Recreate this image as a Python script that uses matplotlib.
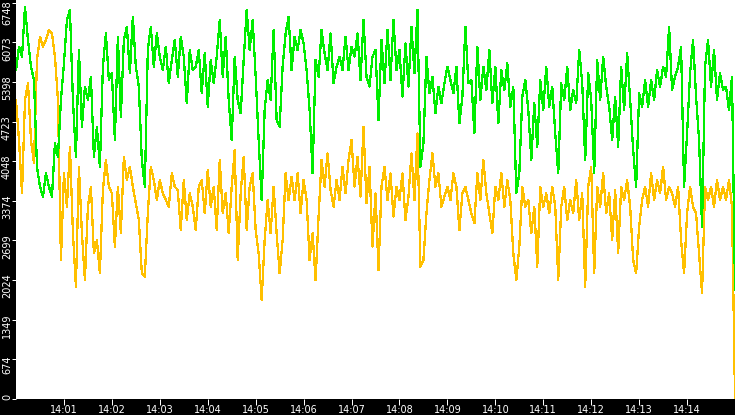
import numpy as np
import pandas as pd
import matplotlib
matplotlib.use("Agg")
import matplotlib.pyplot as plt
import matplotlib.dates as mdates

# samples every 3.75 s from 14:00:00, last sample at 14:15:00
green = [
    5601, 5999, 5828, 6680, 6112, 5658, 5431, 3954, 3613, 3443,
    3840, 3613, 3443, 4352, 4124, 5090, 5715, 6453, 6624, 5090,
    4124, 5942, 4636, 5317, 5090, 5488, 4124, 4636, 3954, 5658,
    6226, 5431, 5544, 4408, 6169, 4806, 6112, 6340, 5544, 6510,
    5658, 5317, 4068, 3613, 5942, 6340, 5658, 6226, 5828, 5601,
    5999, 5374, 5772, 6112, 5488, 6169, 5828, 5033, 5942, 5601,
    # 14:03:45
    5658, 5942, 5204, 5885, 4976, 5772, 5374, 5828, 6453, 5488,
    6169, 5090, 4408, 5828, 5090, 4863, 5772, 6624, 5942, 6453,
    5488, 4408, 3386, 4920, 5431, 5090, 6283, 4749, 4636, 5658,
    6226, 6510, 5601, 6169, 5942, 6283, 6056, 5601, 4920, 3840,
    5772, 5488, 6283, 5885, 5601, 6226, 5374, 5658, 5828, 5601,
    6169, 5601, 5999, 5828, 6226, 5431, 6453, 5488, 5317, 5828,
    # 14:07:30
    5942, 4749, 6112, 5374, 6283, 5431, 6453, 5601, 5942, 5147,
    6056, 5317, 6340, 5544, 6624, 3954, 4352, 5828, 5204, 5488,
    4863, 5317, 5033, 5374, 5658, 5431, 5204, 5658, 4692, 5147,
    6340, 5374, 5431, 4522, 5999, 5090, 5658, 5260, 5942, 5033,
    5658, 4692, 5601, 5260, 5715, 4976, 5317, 3500, 3840, 5147,
    5431, 4920, 4068, 5033, 4295, 5431, 4920, 5658, 4976, 5317,
    # 14:11:15
    4522, 3840, 5374, 5090, 5658, 4920, 5260, 5033, 5942, 5374,
    4068, 5544, 5090, 3840, 5772, 5090, 5828, 5317, 4976, 4408,
    5147, 4295, 5658, 4920, 5885, 5090, 4238, 3613, 5204, 4976,
    5431, 4976, 5431, 5090, 5601, 5317, 5658, 5488, 6340, 5260,
    5488, 5658, 5999, 3613, 4522, 5544, 6112, 5147, 4408, 2932,
    5658, 6112, 5317, 5942, 5090, 5544, 5260, 5317, 4920, 5488,
    1852,
]

orange = [
    5090, 4408, 3500, 5090, 5374, 4408, 4011, 5772, 6169, 5999,
    6112, 6283, 6226, 5828, 5090, 2364, 3840, 3272, 4295, 2818,
    1909, 3954, 2818, 2023, 3272, 3613, 2477, 2704, 2136, 3556,
    4068, 3613, 3500, 2591, 3613, 2818, 4124, 3727, 3954, 3613,
    3329, 3045, 2136, 2080, 3159, 3954, 3727, 3386, 3727, 3500,
    3386, 3272, 3840, 3613, 3556, 2875, 3727, 3045, 3500, 3272,
    # 14:03:45
    2875, 3613, 3727, 3159, 3897, 3272, 3613, 2875, 4068, 3159,
    3500, 2818, 3613, 4238, 2364, 3500, 4124, 2875, 3613, 3840,
    2875, 2477, 1682, 2704, 3386, 2818, 3613, 2818, 2136, 2704,
    3840, 3386, 3784, 3386, 3840, 3159, 3727, 3386, 2364, 2818,
    2023, 3102, 4068, 3613, 4181, 3556, 3272, 3727, 3386, 3954,
    3500, 4068, 4408, 3613, 4124, 3443, 4636, 3329, 3954, 2591,
    # 14:07:30
    3500, 2193, 3613, 3954, 3386, 3840, 3102, 3613, 3386, 3840,
    3045, 3443, 4181, 3386, 4522, 2250, 2364, 3159, 3727, 4181,
    3613, 3840, 3272, 3443, 3613, 3386, 3840, 3613, 2875, 3500,
    3613, 3386, 3159, 2988, 3840, 3386, 4068, 3500, 3159, 2818,
    3613, 3386, 3840, 3272, 3727, 3386, 2477, 2023, 2591, 3613,
    3272, 3386, 2818, 3272, 2250, 3613, 3272, 3500, 3159, 3613,
    # 14:11:15
    3272, 2023, 3272, 3613, 3045, 3386, 3159, 3727, 3045, 3500,
    1909, 3613, 3954, 2136, 3613, 3272, 3840, 3159, 3500, 2704,
    3556, 2477, 3613, 3386, 3727, 3272, 2364, 2136, 2932, 3386,
    3613, 3272, 3840, 3386, 3727, 3500, 3954, 3386, 3613, 3500,
    3272, 3613, 2704, 2136, 3159, 3613, 3272, 3159, 2477, 1795,
    3613, 3386, 3613, 3272, 3727, 3386, 3613, 3386, 3727, 3272,
    0,
]

y_ticks = [0, 674, 1349, 2024, 2699, 3374, 4048, 4723, 5398, 6073, 6748]
y_labels = [str(v) for v in y_ticks]

times = pd.date_range("2024-01-01 14:00:00", periods=len(green), freq="3750ms")

fig = plt.figure(figsize=(7.35, 4.15), dpi=100, facecolor="black")
ax = fig.add_axes([16 / 735, 16.3 / 415, 719 / 735, 398.7 / 415])
ax.set_facecolor("white")

ax.plot(times, orange, color="#ffc000", lw=0.9, antialiased=False)
ax.plot(times, green, color="#00ee00", lw=0.9, antialiased=False)

ax.set_xlim(pd.Timestamp("2024-01-01 14:00:00"), pd.Timestamp("2024-01-01 14:15:00"))
ax.set_ylim(0, 6794)

for s in ax.spines.values():
    s.set_visible(False)

ax.xaxis.set_major_locator(mdates.MinuteLocator(byminute=range(1, 15)))
ax.xaxis.set_major_formatter(mdates.DateFormatter("%H:%M"))
ax.tick_params(axis="x", colors="white", length=4.3, width=0.72, pad=0.5, labelsize=7)

# y labels: rotated, sitting just under their tick, kept inside the plot height
ax.set_yticks(y_ticks)
ax.set_yticklabels([])
ax.tick_params(axis="y", colors="white", length=3, width=0.72)
for i, (v, lab) in enumerate(zip(y_ticks, y_labels)):
    dy = -6
    if i == 0:
        dy = 2
    elif i == len(y_ticks) - 1:
        dy = -10
    ax.annotate(lab, xy=(0, v), xycoords=ax.get_yaxis_transform(),
                xytext=(-9, dy), textcoords="offset pixels",
                rotation=90, ha="center", va="center", color="white", fontsize=7)

fig.savefig("out.png", facecolor="black")
